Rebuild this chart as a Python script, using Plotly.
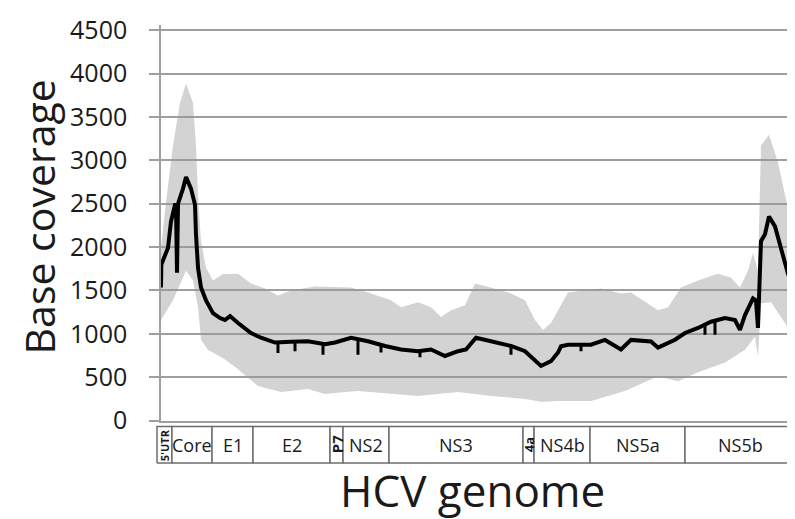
import plotly.graph_objects as go

# ---- data (genome position in nt, coverage) ----
mean_pos = [145, 150, 246, 290, 348, 362, 377, 392, 464, 508, 580, 638, 652, 682, 725, 798, 899,
            1000, 1073, 1146, 1262, 1450, 1595, 1798, 2030, 2276, 2523, 2668, 2900, 3146, 3393,
            3625, 3872, 4060, 4263, 4452, 4568, 4712, 4930, 5220, 5423, 5655, 5800, 5902, 5945,
            6046, 6380, 6583, 6815, 6960, 7250, 7352, 7598, 7743, 7932, 8120, 8323, 8468, 8540,
            8613, 8729, 8772, 8801, 8845, 8903, 8961, 9048, 9135, 9236, 9309, 9330]
mean_cov = [1535, 1800, 1990, 2295, 2488, 2490, 1705, 2500, 2674, 2807, 2674, 2488, 2148, 1760,
            1535, 1386, 1239, 1182, 1160, 1205, 1125, 1010, 955, 900, 910, 915, 880, 900, 955,
            915, 860, 820, 800, 820, 745, 800, 820, 955, 915, 860, 800, 630, 685, 785, 856, 875,
            875, 930, 820, 930, 913, 841, 932, 1010, 1068, 1140, 1182, 1159, 1045, 1216, 1409,
            1386, 1068, 2068, 2148, 2352, 2239, 1992, 1693, 1538, 1386]

spike_pos = [1841, 2088, 2494, 3001, 3335, 3900, 5220, 6235, 8033, 8178]
spike_top = [890, 910, 900, 940, 880, 800, 860, 875, 1100, 1150]
spike_bottom = [780, 800, 760, 760, 785, 730, 760, 800, 990, 990]

upper_pos = [145, 218, 319, 420, 508, 609, 652, 682, 725, 798, 899, 1044, 1146, 1262, 1450, 1653,
             1841, 2030, 2378, 2900, 3146, 3480, 3625, 3872, 4060, 4205, 4350, 4553, 4698, 4930,
             5220, 5423, 5568, 5684, 5800, 5902, 6046, 6525, 6815, 6960, 7352, 7496, 7685, 7932,
             8221, 8410, 8540, 8656, 8729, 8801, 8845, 8961, 9091, 9236, 9338]
upper_cov = [1990, 2520, 3170, 3660, 3886, 3660, 3170, 2600, 2068, 1760, 1614, 1690, 1690, 1693,
             1580, 1523, 1443, 1500, 1545, 1534, 1477, 1386, 1307, 1364, 1307, 1193, 1273, 1330,
             1580, 1534, 1466, 1386, 1159, 1045, 1125, 1273, 1477, 1523, 1466, 1477, 1273, 1307,
             1534, 1614, 1693, 1648, 1534, 1727, 1932, 1727, 3170, 3295, 2977, 2443, 2034]

lower_pos = [145, 319, 508, 609, 682, 725, 826, 1073, 1262, 1551, 1885, 2276, 2523, 2813, 3001,
             3480, 3871, 4451, 4930, 5423, 5655, 5901, 6380, 6873, 7351, 7641, 7932, 8323, 8613,
             8758, 8801, 8845, 8990, 9193, 9338]
lower_cov = [1160, 1386, 1727, 1614, 1310, 932, 818, 705, 591, 398, 330, 364, 307, 330, 341, 307,
             284, 330, 284, 250, 216, 227, 227, 341, 511, 455, 557, 670, 818, 966, 739, 1352, 1364,
             1125, 898]

gene_names = ["5'UTR", "Core", "E1", "E2", "P7", "NS2", "NS3", "4a", "NS4b", "NS5a", "NS5b"]
gene_start = [87, 304, 885, 1479, 2596, 2784, 3451, 5394, 5554, 6366, 7743]
gene_end = [304, 885, 1479, 2596, 2784, 3451, 5394, 5554, 6366, 7743, 9338]
vertical_labels = {"5'UTR": 11, "P7": 15, "4a": 13}

y_ticks = [0, 500, 1000, 1500, 2000, 2500, 3000, 3500, 4000, 4500]

# ---- figure ----
GRID = "#9f9f9f"
fig = go.Figure()

band_x = upper_pos + lower_pos[::-1]
band_y = upper_cov + lower_cov[::-1]
fig.add_trace(go.Scatter(x=band_x, y=band_y, fill="toself", mode="lines",
                         line=dict(width=0), fillcolor="rgba(150,150,150,0.42)",
                         hoverinfo="skip", showlegend=False, xaxis="x", yaxis="y"))

sx, sy = [], []
for p, t, b in zip(spike_pos, spike_top, spike_bottom):
    sx += [p, p, None]
    sy += [t, b, None]
fig.add_trace(go.Scatter(x=sx, y=sy, mode="lines", line=dict(color="black", width=3),
                         showlegend=False, xaxis="x", yaxis="y"))
fig.add_trace(go.Scatter(x=mean_pos, y=mean_cov, mode="lines",
                         line=dict(color="black", width=4), showlegend=False,
                         xaxis="x", yaxis="y"))

# genome annotation bar
for name, s, e in zip(gene_names, gene_start, gene_end):
    fig.add_trace(go.Scatter(x=[s, e, e, s, s], y=[0.05, 0.05, 0.95, 0.95, 0.05],
                             mode="lines", fill="toself", fillcolor="white",
                             line=dict(color="#6e6e6e", width=1.5),
                             hoverinfo="skip", showlegend=False, xaxis="x2", yaxis="y2"))
    vert = name in vertical_labels
    fig.add_annotation(x=(s + e) / 2, y=0.5, xref="x2", yref="y2",
                       text=f"<b>{name}</b>" if vert else name,
                       showarrow=False, textangle=-90 if vert else 0,
                       font=dict(family="Open Sans",
                                 size=vertical_labels[name] if vert else 18,
                                 color="#1a1a1a"))

W, H = 795, 519
L, R, T, B = 140, 4, 11, 62
pw = W - L - R
ph = H - T - B

# axis titles
fig.add_annotation(text="Base coverage", textangle=-90, showarrow=False,
                   xref="paper", yref="paper", x=(31 - L) / pw, y=(H - B - 206) / ph,
                   xanchor="center", yanchor="middle", borderpad=0,
                   font=dict(family="Open Sans", size=41, color="#1a1a1a"))
fig.add_annotation(text="HCV genome", showarrow=False,
                   xref="paper", yref="paper", x=(464 - L) / pw, y=(H - B - 482) / ph,
                   xanchor="center", yanchor="middle",
                   font=dict(family="Open Sans", size=44, color="#1a1a1a"))

fig.update_layout(
    width=W, height=H,
    margin=dict(l=L, r=R, t=T, b=B),
    plot_bgcolor="white", paper_bgcolor="white",
    font=dict(family="Open Sans", color="#1a1a1a"),
    xaxis=dict(domain=[13 / pw, 647 / pw], range=[145, 9338], showgrid=False,
               showticklabels=False, ticks="", zeroline=False,
               showline=True, linecolor=GRID, linewidth=1.5, anchor="y"),
    yaxis=dict(domain=[(H - B - 412) / ph, 1], range=[0, 4560], tickvals=y_ticks,
               showgrid=True, gridcolor=GRID, gridwidth=1.5, zeroline=False,
               ticks="outside", ticklen=10, tickcolor=GRID, tickwidth=1.5,
               showline=True, linecolor=GRID, linewidth=1.5,
               tickfont=dict(size=25, color="#1a1a1a"), ticklabelstandoff=17,
               ticklabeloverflow="allow", anchor="x"),
    xaxis2=dict(domain=[6 / pw, 650 / pw], range=[43.5, 9381.5], showgrid=False,
                showticklabels=False, ticks="", zeroline=False, showline=False,
                anchor="y2"),
    yaxis2=dict(domain=[0, 41 / ph], range=[0, 1], showgrid=False,
                showticklabels=False, ticks="", zeroline=False, showline=False,
                anchor="x2"),
)

fig.write_html("out.html")
